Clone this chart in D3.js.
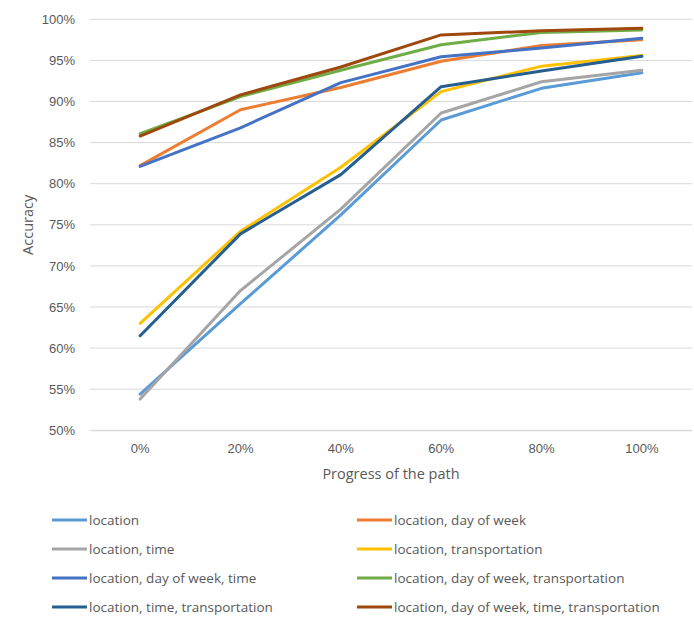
<!DOCTYPE html>
<html>
<head>
<meta charset="utf-8">
<script src="https://cdn.jsdelivr.net/npm/d3@7"></script>
<style>
  html, body { margin: 0; padding: 0; background: #fff; }
  svg { display: block; font-family: "Open Sans", "Noto Sans", sans-serif; }
</style>
</head>
<body>
<svg id="chart" width="694" height="626"></svg>
<script>
const categories = ["0%", "20%", "40%", "60%", "80%", "100%"];
const yTicks = [0.50, 0.55, 0.60, 0.65, 0.70, 0.75, 0.80, 0.85, 0.90, 0.95, 1.00];

const seriesNames = [
  "location",
  "location, day of week",
  "location, time",
  "location, transportation",
  "location, day of week, time",
  "location, day of week, transportation",
  "location, time, transportation",
  "location, day of week, time, transportation"
];
const seriesColors = ["#5B9BD5", "#ED7D31", "#A5A5A5", "#FFC000", "#4472C4", "#70AD47", "#255E91", "#9E480E"];

const sLocation          = [0.544, 0.654, 0.762, 0.8775, 0.916, 0.935];
const sLocDow            = [0.822, 0.890, 0.917, 0.949, 0.968, 0.975];
const sLocTime           = [0.538, 0.670, 0.769, 0.886, 0.924, 0.938];
const sLocTransp         = [0.630, 0.742, 0.820, 0.912, 0.943, 0.956];
const sLocDowTime        = [0.821, 0.868, 0.923, 0.9545, 0.965, 0.977];
const sLocDowTransp      = [0.861, 0.906, 0.938, 0.969, 0.984, 0.987];
const sLocTimeTransp     = [0.615, 0.739, 0.811, 0.918, 0.937, 0.955];
const sAll               = [0.858, 0.908, 0.942, 0.981, 0.986, 0.989];

const seriesValues = [sLocation, sLocDow, sLocTime, sLocTransp, sLocDowTime, sLocDowTransp, sLocTimeTransp, sAll];

const svg = d3.select("#chart");
const pLeft = 90, pRight = 692, pTop = 19.3, pBottom = 430.3;

const x = d3.scaleBand().domain(categories).range([pLeft, pRight]);
const y = d3.scaleLinear().domain([0.5, 1.0]).range([pBottom, pTop]);
const fmt = d3.format(".0%");

// gridlines
svg.append("g").selectAll("line").data(yTicks).join("line")
  .attr("x1", pLeft).attr("x2", pRight)
  .attr("y1", d => y(d)).attr("y2", d => y(d))
  .attr("stroke", "#d9d9d9").attr("stroke-width", 1);

// y axis labels
const yAxis = svg.append("g").attr("transform", `translate(${pLeft},0)`)
  .call(d3.axisLeft(y).tickValues(yTicks).tickFormat(fmt).tickSize(0).tickPadding(15));
yAxis.select(".domain").remove();
yAxis.selectAll("text").attr("fill", "#595959").style("font-size", "13px");

// x axis labels
const xAxis = svg.append("g").attr("transform", `translate(0,${pBottom})`)
  .call(d3.axisBottom(x).tickSize(0).tickPadding(13));
xAxis.select(".domain").attr("stroke", "#d9d9d9");
xAxis.selectAll("text").attr("fill", "#595959").style("font-size", "13px");

// axis titles
svg.append("text").attr("x", (pLeft + pRight) / 2).attr("y", 479)
  .attr("text-anchor", "middle").attr("fill", "#595959").style("font-size", "14.5px")
  .text("Progress of the path");
svg.append("text").attr("transform", `translate(33,${(pTop + pBottom) / 2}) rotate(-90)`)
  .attr("text-anchor", "middle").attr("fill", "#595959").style("font-size", "14.5px")
  .text("Accuracy");

// lines
const line = d3.line()
  .x((d, i) => x(categories[i]) + x.bandwidth() / 2)
  .y(d => y(d));

svg.append("g").selectAll("path").data(seriesValues).join("path")
  .attr("d", d => line(d))
  .attr("fill", "none")
  .attr("stroke", (d, i) => seriesColors[i])
  .attr("stroke-width", 3)
  .attr("stroke-linejoin", "round")
  .attr("stroke-linecap", "round");

// legend
const legendX = [52, 357];
const legendY = [520, 549, 578, 607];
const lg = svg.append("g").selectAll("g").data(seriesNames).join("g")
  .attr("transform", (d, i) => `translate(${legendX[i % 2]},${legendY[Math.floor(i / 2)]})`);
lg.append("line").attr("x1", 0).attr("x2", 35).attr("y1", 0).attr("y2", 0)
  .attr("stroke", (d, i) => seriesColors[i]).attr("stroke-width", 3);
lg.append("text").attr("x", 37).attr("y", 0).attr("dy", "0.35em")
  .attr("fill", "#595959").style("font-size", "13.5px")
  .text(d => d);
</script>
</body>
</html>
